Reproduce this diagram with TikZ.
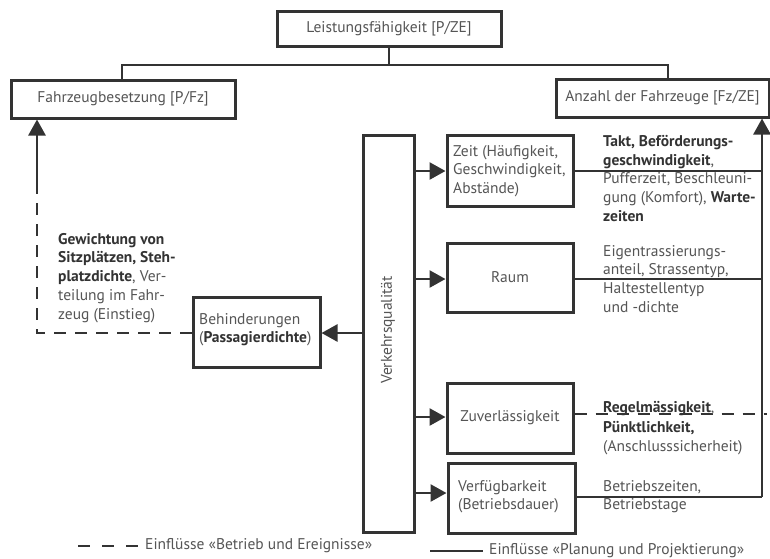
\documentclass[tikz,border=0pt]{standalone}
\usepackage{fontspec}
\setmainfont{PT Sans}
\usetikzlibrary{arrows.meta}
\definecolor{ln}{HTML}{333333}
\definecolor{tx}{HTML}{555555}
\definecolor{bt}{HTML}{333333}
\newcommand{\bd}[1]{\textbf{\color{bt}#1}}
\begin{document}
\begin{tikzpicture}[x=1pt,y=-1pt,
  box/.style={draw=ln,line width=3pt,text=tx,inner sep=0pt,font=\fontsize{15.5}{18.7}\selectfont},
  lbl/.style={text=tx,anchor=north west,inner sep=0pt,align=left,font=\fontsize{15.5}{18.7}\selectfont},
  con/.style={draw=ln,line width=2.6pt},
  arr/.style={con,-{Triangle[length=16pt,width=17pt]}},
  dsh/.style={con,dash pattern=on 12pt off 9pt}]
\useasboundingbox[fill=white] (0,0) rectangle (770,558);
% top level
\node[box,minimum width=224pt,minimum height=35pt] (lf) at (389,28.5) {Leistungsfähigkeit [P/ZE]};
\node[box,minimum width=224pt,minimum height=38pt] (fb) at (123,99) {Fahrzeugbesetzung [P/Fz]};
\node[box,minimum width=213pt,minimum height=38pt] (az) at (662.5,98) {Anzahl der Fahrzeuge [Fz/ZE]};
\coordinate (j) at (389,65);
\draw[con] (lf.south) -- (j) -| (fb.north -| 122,0);
\draw[con] (j) -| (668,79);
% Verkehrsqualitaet
\node[box,minimum width=51pt,minimum height=397pt] (vq) at (388.5,333.5) {};
\node[text=tx,rotate=90,inner sep=0pt,font=\fontsize{15.5}{18}\selectfont] (vqt) at (388,330) {Verkehrsqualität};
% right boxes
\node[box,minimum width=126pt,minimum height=71pt] (zeit) at (510,170.5) {};
\node[lbl] (zeitt) at (453,145) {Zeit (Häufigkeit,\\Geschwindigkeit,\\Abstände)};
\node[box,minimum width=126pt,minimum height=69pt] (raum) at (510,277.5) {Raum};
\node[box,minimum width=126pt,minimum height=70pt] (zuv) at (510,418) {Zuverlässigkeit};
\node[box,minimum width=127pt,minimum height=70pt] (verf) at (511.5,498) {};
\node[lbl] (verft) at (458,480) {Verfügbarkeit\\(Betriebsdauer)};
% Behinderungen
\node[box,minimum width=127pt,minimum height=70pt] (beh) at (256.5,332) {};
\node[lbl] (beht) at (199,313) {Behinderungen\\(\bd{Passagierdichte})};
% arrows from vq
\draw[arr] (vq.east |- 0,171) -- (zeit.west |- 0,171);
\draw[arr] (vq.east |- 0,279) -- (raum.west |- 0,279);
\draw[arr] (vq.east |- 0,417) -- (zuv.west |- 0,417);
\draw[arr] (vq.east |- 0,493) -- (verf.west |- 0,493);
\draw[arr] (vq.west |- 0,333) -- (beh.east |- 0,333);
% right collector
\coordinate (rc) at (762,497);
\draw[con] (zeit.east |- 0,171) -- (762,171);
\draw[con] (raum.east |- 0,279) -- (762,279);
\draw[dsh] (zuv.east |- 0,414) -- (767,414);
\draw[con] (verf.east |- 0,497) -- (rc);
\draw[arr] (rc) -- (az.south -| rc);
% left dashed
\coordinate (lb) at (37,333);
\coordinate (ls) at (37,182);
\draw[dsh] (beh.west |- lb) -- (lb) -- (ls);
\draw[arr] (ls) -- (fb.south -| ls);
% labels
\node[lbl] (l1) at (603,135) {\bd{Takt, Beförderungs-}\\\bd{geschwindigkeit}, \\Pufferzeit, Beschleuni-\\gung (Komfort), \bd{Warte-}\\\bd{zeiten}};
\node[lbl] (l2) at (603,245) {Eigentrassierungs-\\anteil, Strassentyp,\\Haltestellentyp\\und -dichte};
\node[lbl,font=\fontsize{15.5}{19.8}\selectfont] (l3) at (603,401) {\bd{Regelmässigkeit},\\\bd{Pünktlichkeit,}\\(Anschlusssicherheit)};
\node[lbl] (l4) at (603,480) {Betriebszeiten,\\Betriebstage};
\node[lbl] (l5) at (58,233) {\bd{Gewichtung von}\\\bd{Sitzplätzen, Steh-}\\\bd{platzdichte}, Ver-\\teilung im Fahr-\\zeug (Einstieg)};
% legend
\coordinate (d1) at (78,546);
\coordinate (d2) at (138,546);
\draw[con,dash pattern=on 12pt off 12pt] (d1) -- (d2);
\node[lbl,anchor=west] (dl) at (145,546) {Einflüsse «Betrieb und Ereignisse»};
\coordinate (s1) at (430,551);
\coordinate (s2) at (483,551);
\draw[con] (s1) -- (s2);
\node[lbl,anchor=west] (sl) at (489,551) {Einflüsse «Planung und Projektierung»};
\end{tikzpicture}
\end{document}
